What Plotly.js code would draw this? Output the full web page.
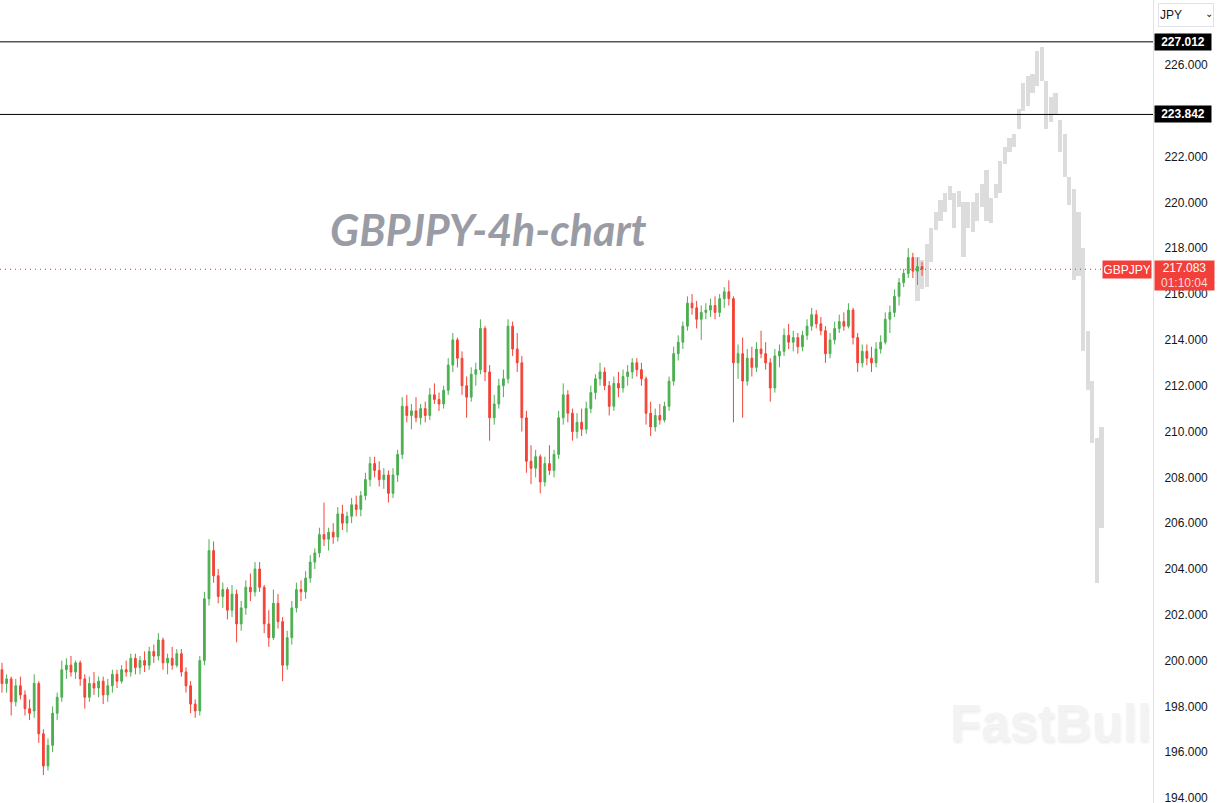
<!DOCTYPE html>
<html><head><meta charset="utf-8">
<script src="https://cdn.plot.ly/plotly-3.0.1.min.js"></script>
<style>html,body{margin:0;padding:0;background:#fff;} #chart{width:1219px;height:803px;}</style>
</head><body><div id="chart"></div>
<script>
// GBPJPY 4h candles
const opens = [
199.6,199.0,199.2,198.2,198.9,198.5,197.9,197.8,199.0,196.8,
195.4,196.3,197.7,198.4,199.6,199.8,199.5,199.9,199.2,198.4,
199.0,198.8,199.1,198.5,198.9,199.4,199.1,199.6,199.5,200.1,
199.7,200.0,199.8,200.4,200.2,200.9,199.9,200.1,199.8,200.3,
199.5,198.9,198.1,197.8,200.0,202.7,204.8,203.7,202.8,203.1,
202.2,202.9,201.6,202.3,203.2,203.0,204.0,203.2,201.6,201.0,
202.5,201.7,199.8,201.0,202.3,203.1,203.0,203.6,204.3,204.7,
205.5,205.3,205.6,205.4,206.4,206.0,206.3,206.8,206.6,207.2,
207.9,208.6,208.3,207.9,208.1,207.3,208.1,209.0,211.1,210.7,
210.9,210.6,211.0,210.7,211.6,211.4,211.2,211.8,212.9,214.0,
213.2,212.0,211.5,212.5,212.7,214.5,212.6,210.6,211.2,212.0,
212.3,214.6,213.6,213.0,210.6,208.7,208.4,208.9,207.8,208.6,
208.3,209.0,210.6,211.6,210.8,210.0,210.4,210.1,211.0,211.7,
212.3,212.6,212.0,211.1,212.1,211.9,212.4,212.6,213.0,212.7,
212.3,210.8,210.2,210.7,210.5,211.1,212.2,213.4,213.9,214.6,
215.6,215.4,214.9,215.2,215.3,215.5,215.2,215.8,216.1,215.8,
213.0,213.4,212.2,213.2,212.8,213.6,213.4,213.0,211.9,213.3,
213.5,214.2,213.9,214.1,213.7,214.2,214.6,215.1,214.7,214.4,
213.4,214.0,214.5,214.8,214.6,215.3,214.1,213.0,213.5,213.2,
213.0,213.6,213.9,214.9,215.2,215.9,216.5,216.9,217.6,217.0,217.2];
const highs = [
199.9,199.4,199.3,199.2,199.3,198.7,198.3,199.4,199.1,197.0,
196.6,198.0,198.6,200.0,200.1,200.2,200.0,200.0,199.4,199.3,
199.5,199.3,199.3,199.2,199.6,199.6,199.8,200.0,200.3,200.3,
200.2,200.4,200.6,200.7,201.2,201.0,200.3,200.6,200.5,200.5,
199.7,199.1,198.3,200.2,203.0,205.3,205.2,204.0,203.4,203.2,
203.3,203.1,202.6,203.5,203.8,204.3,204.3,203.3,202.2,203.1,
202.9,201.9,201.3,202.6,203.4,203.5,203.9,204.6,204.9,205.8,
206.9,205.8,206.0,206.7,206.8,206.5,207.1,207.2,207.4,208.2,
208.9,208.9,208.7,208.4,208.3,208.4,209.2,211.5,211.6,211.2,
211.5,211.2,211.3,211.9,212.1,211.7,212.0,213.2,214.3,214.1,
213.5,212.4,212.8,213.0,214.9,214.6,212.9,211.6,212.3,212.7,
214.9,214.8,214.3,213.3,210.9,209.4,209.2,209.0,208.9,209.4,
209.2,210.9,212.1,211.8,211.0,210.8,211.0,211.3,212.0,212.5,
213.0,212.8,212.2,212.4,212.6,212.7,212.9,213.2,213.2,213.0,
212.4,211.3,211.0,211.2,211.3,212.4,213.7,214.2,214.8,215.9,
216.0,215.7,215.5,215.6,215.8,215.9,216.0,216.3,216.6,215.9,
213.8,214.1,213.6,213.7,213.9,214.4,213.9,213.2,213.6,213.8,
214.5,214.7,214.4,214.3,214.4,214.9,215.4,215.3,215.0,214.6,
214.3,214.8,215.1,215.2,215.6,215.4,214.3,213.8,213.8,213.7,
213.9,214.2,215.2,215.5,216.2,216.7,217.1,218.0,217.8,217.6,217.4];
const lows = [
198.6,198.6,197.6,198.0,198.3,197.6,197.4,197.5,196.4,195.0,
195.2,196.0,197.4,198.2,199.2,199.3,199.2,198.9,197.9,198.2,
198.5,198.4,198.1,198.2,198.6,198.8,199.0,199.3,199.3,199.4,
199.4,199.5,199.6,199.9,200.0,199.6,199.4,199.6,199.7,199.3,
198.6,197.7,197.5,197.6,199.8,202.4,203.4,202.5,202.3,201.8,
201.9,200.8,201.3,202.0,202.6,202.8,203.0,201.2,200.6,200.9,
201.4,199.1,199.6,200.7,202.1,202.6,202.7,203.4,204.0,204.5,
205.0,204.8,205.1,205.2,205.7,205.6,206.0,206.3,206.3,207.0,
207.6,208.0,207.6,207.5,206.9,207.1,207.8,208.8,210.4,210.1,
210.4,210.3,210.4,210.5,211.2,210.9,211.0,211.6,212.6,212.8,
211.6,210.6,211.3,212.0,212.5,212.2,209.6,210.3,211.0,211.5,
212.1,213.3,212.6,210.0,208.2,207.7,208.0,207.3,207.6,208.1,
208.0,208.8,210.3,210.4,209.6,209.7,209.8,209.9,210.8,211.4,
212.0,211.8,210.7,210.9,211.5,211.7,212.0,212.3,212.4,212.0,
210.3,209.8,210.0,210.3,210.4,210.9,212.0,213.1,213.6,214.4,
215.1,214.5,214.0,214.9,215.0,214.9,215.0,215.4,215.5,210.4,
212.3,210.6,212.0,212.4,212.6,213.2,212.7,211.3,211.7,212.8,
213.3,213.6,213.5,213.4,213.5,214.0,214.4,214.5,214.2,213.0,
213.2,213.8,214.3,214.4,214.5,213.8,212.6,212.8,212.9,212.6,
212.8,213.4,213.8,214.3,215.0,215.5,216.3,216.7,216.7,216.4,216.8];
const closes = [
199.0,199.2,198.2,198.9,198.5,197.9,197.7,199.0,196.8,195.4,
196.3,197.7,198.4,199.6,199.8,199.5,199.9,199.2,198.4,199.0,
198.8,199.1,198.5,198.9,199.4,199.1,199.6,199.5,200.1,199.7,
200.0,199.8,200.4,200.2,200.9,199.9,200.1,199.8,200.3,199.5,
198.9,198.1,197.8,200.0,202.7,204.8,203.7,202.8,203.1,202.2,
202.9,201.6,202.3,203.2,203.0,204.0,203.2,201.6,201.0,202.5,
201.7,199.8,201.0,202.3,203.1,203.0,203.6,204.3,204.7,205.5,
205.3,205.6,205.4,206.4,206.0,206.3,206.8,206.6,207.2,207.9,
208.6,208.3,207.9,208.1,207.3,208.1,209.0,211.1,210.7,210.9,
210.6,211.0,210.7,211.6,211.4,211.2,211.8,212.9,214.0,213.2,
212.0,211.5,212.5,212.7,214.5,212.6,210.6,211.2,212.0,212.3,
214.6,213.6,213.0,210.6,208.7,208.4,208.9,207.8,208.6,208.3,
209.0,210.6,211.6,210.8,210.0,210.4,210.1,211.0,211.7,212.3,
212.6,212.0,211.1,212.1,211.9,212.4,212.6,213.0,212.7,212.3,
210.8,210.2,210.7,210.5,211.1,212.2,213.4,213.9,214.6,215.6,
215.4,214.9,215.2,215.3,215.5,215.2,215.8,216.1,215.8,213.0,
213.4,212.2,213.2,212.8,213.6,213.4,213.0,211.9,213.3,213.5,
214.2,213.9,214.1,213.7,214.2,214.6,215.1,214.7,214.4,213.4,
214.0,214.5,214.8,214.6,215.3,214.1,213.0,213.5,213.2,213.0,
213.6,213.9,214.9,215.2,215.9,216.5,216.9,217.6,217.0,217.2,217.083];

// projected (grey) path
const ghostStartBar = 199;
const ghostHigh = [217.6,217.5,218.2,218.9,219.6,220.1,220.4,220.7,220.4,220.5,
220.0,220.0,220.0,220.4,220.8,221.4,220.2,220.8,221.8,222.4,
222.8,223.0,224.1,225.2,225.5,225.6,226.6,226.8,225.3,224.6,
224.8,223.6,223.0,221.1,220.6,219.6,218.0,214.4,212.2,209.7,210.2];
const ghostLow = [215.7,216.2,216.3,217.4,218.8,219.2,219.6,220.1,218.9,219.8,
217.6,218.9,218.7,219.2,219.8,219.2,219.1,220.2,220.4,221.7,
222.2,222.4,223.2,224.0,224.2,224.8,225.1,225.3,223.2,223.5,
223.8,222.2,221.1,219.9,216.6,216.8,213.5,211.8,209.5,203.4,205.8];

const levels = [227.012, 223.842];
const lastPrice = 217.083;
const countdown = '01:10:04';
// 224.000 is covered by the 223.842 level tag in the reference
const yTicks = [194,196,198,200,202,204,206,208,210,212,214,216,218,220,222,226];

const bars = closes.map((_, i) => i);
const gx = ghostHigh.map((_, i) => ghostStartBar + i);

const ghost = {
  type: 'bar', x: gx, base: ghostLow, y: ghostHigh.map((h, i) => h - ghostLow[i]),
  width: 0.9, marker: {color: '#dcdcdc', line: {width: 0}}, hoverinfo: 'skip', showlegend: false
};
const candles = {
  type: 'candlestick', x: bars, open: opens, high: highs, low: lows, close: closes,
  increasing: {line: {color: '#4caf50', width: 1}, fillcolor: '#4caf50'},
  decreasing: {line: {color: '#f44336', width: 1}, fillcolor: '#f44336'},
  whiskerwidth: 0, showlegend: false, hoverinfo: 'skip'
};

const plotW = 1153;
const shapes = levels.map(v => ({type: 'line', xref: 'paper', yref: 'y', x0: 0, x1: 1, y0: v, y1: v,
  line: {color: '#000000', width: 1}}));
shapes.push({type: 'line', xref: 'paper', yref: 'y', x0: 0, x1: 1104/plotW, y0: lastPrice, y1: lastPrice,
  line: {color: '#b5423b', width: 1, dash: '1px,4px'}});

const annotations = levels.map(v => ({xref: 'paper', yref: 'y', x: 1, y: v, xanchor: 'left', yanchor: 'middle',
  xshift: 1, text: v.toFixed(3), showarrow: false, bgcolor: '#000000', borderpad: 1, width: 54, height: 14,
  font: {family: 'Liberation Sans', size: 12, color: '#ffffff', weight: 'bold'}}));
annotations.push({xref: 'paper', yref: 'y', x: 1, y: lastPrice, xanchor: 'right', yanchor: 'middle', xshift: -1, yshift: 0,
  text: 'GBPJPY', showarrow: false, bgcolor: '#f23f3a', borderpad: 1, width: 46, height: 15,
  font: {family: 'Liberation Sans', size: 12, color: '#ffffff'}});
annotations.push({xref: 'paper', yref: 'y', x: 1, y: lastPrice, xanchor: 'left', yanchor: 'middle', xshift: 1, yshift: -6,
  text: lastPrice.toFixed(3) + '<br><span style="color:#ffd6d3">' + countdown + '</span>', showarrow: false,
  bgcolor: '#f23f3a', borderpad: 1, width: 57, height: 27,
  font: {family: 'Liberation Sans', size: 12, color: '#ffffff'}});
annotations.push({xref: 'paper', yref: 'y', x: 488/plotW, y: 218.8, xanchor: 'center', yanchor: 'middle',
  text: 'GBPJPY-4h-chart', showarrow: false,
  font: {family: 'Lato', size: 43, color: '#9a9ca5', weight: 'bold', style: 'italic'}});
annotations.push({xref: 'paper', yref: 'paper', x: 1050/plotW, y: 1 - 723/803, xanchor: 'center', yanchor: 'middle',
  text: 'FastBull', showarrow: false,
  font: {family: 'Liberation Sans', size: 51, color: '#f3f3f3', weight: 'bold',
    shadow: '1px 2px 3px rgba(0,0,0,0.08)'}});
annotations.push({xref: 'paper', yref: 'paper', x: 1, y: 1, xanchor: 'left', yanchor: 'top', xshift: 5, yshift: -3,
  text: 'JPY', showarrow: false, align: 'left', width: 52, height: 20, bgcolor: '#ffffff',
  bordercolor: '#e0e3eb', borderwidth: 1, borderpad: 1,
  font: {family: 'Liberation Sans', size: 12, color: '#131722'}});
annotations.push({xref: 'paper', yref: 'paper', x: 1, y: 1, xanchor: 'left', yanchor: 'top', xshift: 50, yshift: -6,
  text: '⌄', showarrow: false, font: {family: 'DejaVu Sans', size: 10, color: '#131722'}});

const layout = {
  width: 1219, height: 803,
  margin: {l: 0, r: 66, t: 0, b: 0, pad: 0},
  paper_bgcolor: '#ffffff', plot_bgcolor: '#ffffff',
  showlegend: false, hovermode: false, boxgap: 0.45, bargap: 0,
  xaxis: {range: [-0.43, 250.2], visible: false, rangeslider: {visible: false}, fixedrange: true},
  yaxis: {side: 'right', range: [193.782, 228.838], tickvals: yTicks, ticktext: yTicks.map(v => v.toFixed(3)),
    showgrid: false, zeroline: false, showline: true, linecolor: '#e0e3eb', linewidth: 1,
    ticks: '', ticklabelstandoff: 8, ticklabeloverflow: 'allow',
    tickfont: {family: 'Liberation Sans', size: 12, color: '#131722'}, fixedrange: true},
  shapes: shapes, annotations: annotations
};

Plotly.newPlot('chart', [ghost, candles], layout, {displayModeBar: false, staticPlot: true});
</script>
</body></html>
